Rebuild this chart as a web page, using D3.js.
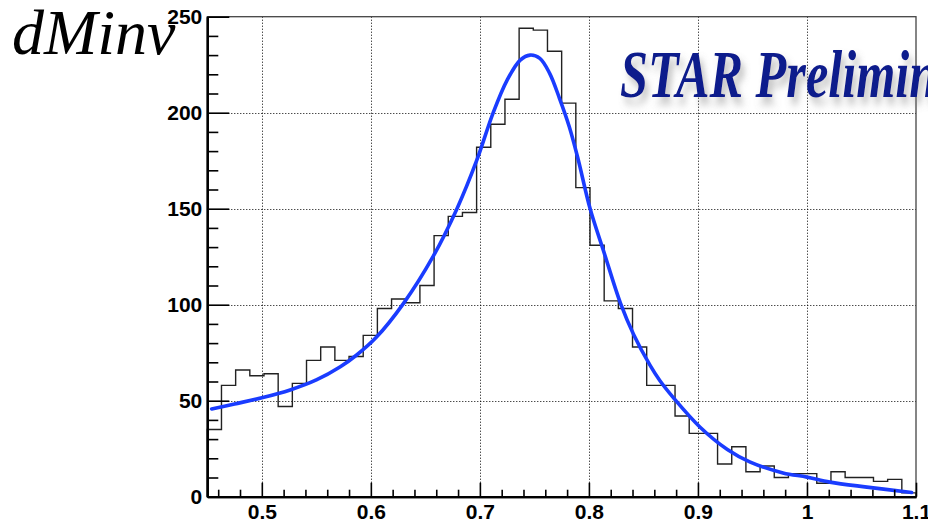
<!DOCTYPE html>
<html>
<head>
<meta charset="utf-8">
<script src="https://cdn.jsdelivr.net/npm/d3@7"></script>
<style>
  body { margin: 0; background: #fff; }
  svg { display: block; }
</style>
</head>
<body>
<div id="chart"></div>
<script>
// histogram: 50 bins of 0.013 from 0.45 to 1.1
var binStart = 0.45;
var binWidth = 0.013;
var counts = [35, 58, 66, 63, 64, 47, 59, 71, 78, 71,
              73, 84, 98, 103, 101, 110, 136, 146, 148, 182,
              194, 207, 244, 243, 232, 205, 161, 131, 102, 98,
              78, 58, 58, 42, 33, 33, 17, 26, 13, 16,
              10, 12, 12, 7, 13, 10, 10, 8, 9, 2];

// fit curve
var fitX = [0.454, 0.475, 0.500, 0.526, 0.550, 0.572, 0.587, 0.605, 0.630, 0.657,
            0.679, 0.697, 0.712, 0.725, 0.737, 0.746, 0.755, 0.764, 0.773, 0.782,
            0.790, 0.801, 0.814, 0.829, 0.841, 0.856, 0.865, 0.878, 0.902, 0.927,
            0.948, 0.978, 1.000, 1.021, 1.055, 1.096];
var fitY = [45.7, 48.3, 51.5, 55.6, 60.8, 67.7, 73.8, 83, 100.7, 125,
            150, 175, 199.7, 217, 227.4, 230, 228.3, 220.5, 207.5, 192.7,
            176, 150.2, 127, 100.7, 84.5, 68.5, 60.5, 51.2, 36.2, 24.6,
            18, 12.4, 10.2, 7.6, 5, 2.2];

var xMajor = [0.5, 0.6, 0.7, 0.8, 0.9, 1.0, 1.1];
var xLabels = ["0.5", "0.6", "0.7", "0.8", "0.9", "1", "1.1"];
var xMinor = [0.46, 0.48, 0.52, 0.54, 0.56, 0.58, 0.62, 0.64, 0.66, 0.68, 0.72, 0.74, 0.76, 0.78,
              0.82, 0.84, 0.86, 0.88, 0.92, 0.94, 0.96, 0.98, 1.02, 1.04, 1.06, 1.08];
var yMajor = [0, 50, 100, 150, 200, 250];
var yMinor = [10, 20, 30, 40, 60, 70, 80, 90, 110, 120, 130, 140, 160, 170, 180, 190, 210, 220, 230, 240];
var xGrid = [0.5, 0.6, 0.7, 0.8, 0.9, 1.0];
var yGrid = [50, 100, 150, 200];

var W = 928, H = 522;
var pLeft = 207.3, pRight = 916, pTop = 16.7, pBottom = 496.7;

var svg = d3.select("#chart").append("svg")
    .attr("width", W).attr("height", H);

var defs = svg.append("defs");
var f = defs.append("filter").attr("id", "shadow")
    .attr("x", "-10%").attr("y", "-30%").attr("width", "130%").attr("height", "170%");
f.append("feDropShadow").attr("dx", 5).attr("dy", 7).attr("stdDeviation", 4)
    .attr("flood-color", "#777").attr("flood-opacity", 0.45);

var x = d3.scaleLinear().domain([0.45, 1.1]).range([pLeft, pRight]);
var y = d3.scaleLinear().domain([0, 250]).range([pBottom, pTop]);

// grid
var grid = svg.append("g").attr("stroke", "#000").attr("stroke-width", 1).attr("stroke-dasharray", "1,2");
grid.selectAll(".gx").data(xGrid).enter().append("line")
    .attr("x1", d => Math.round(x(d)) + 0.5).attr("x2", d => Math.round(x(d)) + 0.5)
    .attr("y1", pTop).attr("y2", pBottom);
grid.selectAll(".gy").data(yGrid).enter().append("line")
    .attr("x1", pLeft).attr("x2", pRight)
    .attr("y1", d => Math.round(y(d)) + 0.5).attr("y2", d => Math.round(y(d)) + 0.5);

// frame
svg.append("rect")
    .attr("x", pLeft).attr("y", pTop)
    .attr("width", pRight - pLeft).attr("height", pBottom - pTop)
    .attr("fill", "none").attr("stroke", "#444").attr("stroke-width", 1.3);

// histogram outline
var pts = [[binStart, 0]];
counts.forEach((c, i) => pts.push([binStart + i * binWidth, c]));
pts.push([binStart + counts.length * binWidth, 0]);

var step = d3.line()
    .x(d => x(d[0]))
    .y(d => y(d[1]))
    .curve(d3.curveStepAfter);

svg.append("path")
    .attr("d", step(pts))
    .attr("fill", "none")
    .attr("stroke", "#222")
    .attr("stroke-width", 1.4);

// fit curve
var fitLine = d3.line()
    .x((d, i) => x(fitX[i]))
    .y(d => y(d))
    .curve(d3.curveCatmullRom.alpha(0.5));

svg.append("path")
    .attr("d", fitLine(fitY))
    .attr("fill", "none")
    .attr("stroke", "#1a3cff")
    .attr("stroke-width", 3.6)
    .attr("stroke-linecap", "round");

// axes
var xAxis = d3.axisBottom(x)
    .tickValues(xMajor)
    .tickFormat((d, i) => xLabels[i])
    .tickSizeInner(-14).tickSizeOuter(0).tickPadding(8);
var gx = svg.append("g").attr("transform", "translate(0," + pBottom + ")").call(xAxis);

var xAxisMinor = d3.axisBottom(x).tickValues(xMinor).tickFormat("")
    .tickSizeInner(-7).tickSizeOuter(0);
var gxm = svg.append("g").attr("transform", "translate(0," + pBottom + ")").call(xAxisMinor);

var yAxis = d3.axisLeft(y)
    .tickValues(yMajor)
    .tickSizeInner(-22).tickSizeOuter(0).tickPadding(5);
var gy = svg.append("g").attr("transform", "translate(" + pLeft + ",0)").call(yAxis);

var yAxisMinor = d3.axisLeft(y).tickValues(yMinor).tickFormat("")
    .tickSizeInner(-11).tickSizeOuter(0);
var gym = svg.append("g").attr("transform", "translate(" + pLeft + ",0)").call(yAxisMinor);

[gx, gxm, gy, gym].forEach(g => {
  g.attr("font-family", "'Liberation Sans', Arial, sans-serif")
   .attr("font-size", 21)
   .attr("font-weight", "bold");
  g.selectAll(".tick text").attr("fill", "#000");
  g.selectAll(".tick line").attr("stroke", "#000").attr("stroke-width", 1.6);
  g.select(".domain").attr("stroke", "#000").attr("stroke-width", 2.2);
});
gx.selectAll(".tick text").attr("dy", "0.68em");

// titles
svg.append("text")
    .attr("x", 12).attr("y", 54)
    .attr("font-family", "'Times New Roman', 'Liberation Serif', serif")
    .attr("font-style", "italic")
    .attr("font-size", 64)
    .attr("fill", "#000")
    .text("dMinv");

svg.append("text")
    .attr("transform", "translate(620,97) scale(0.74,1)")
    .attr("font-family", "'Times New Roman', 'Liberation Serif', serif")
    .attr("font-style", "italic")
    .attr("font-weight", "bold")
    .attr("font-size", 68)
    .attr("fill", "#0a1a8c")
    .attr("filter", "url(#shadow)")
    .text("STAR Preliminary");
</script>
</body>
</html>
